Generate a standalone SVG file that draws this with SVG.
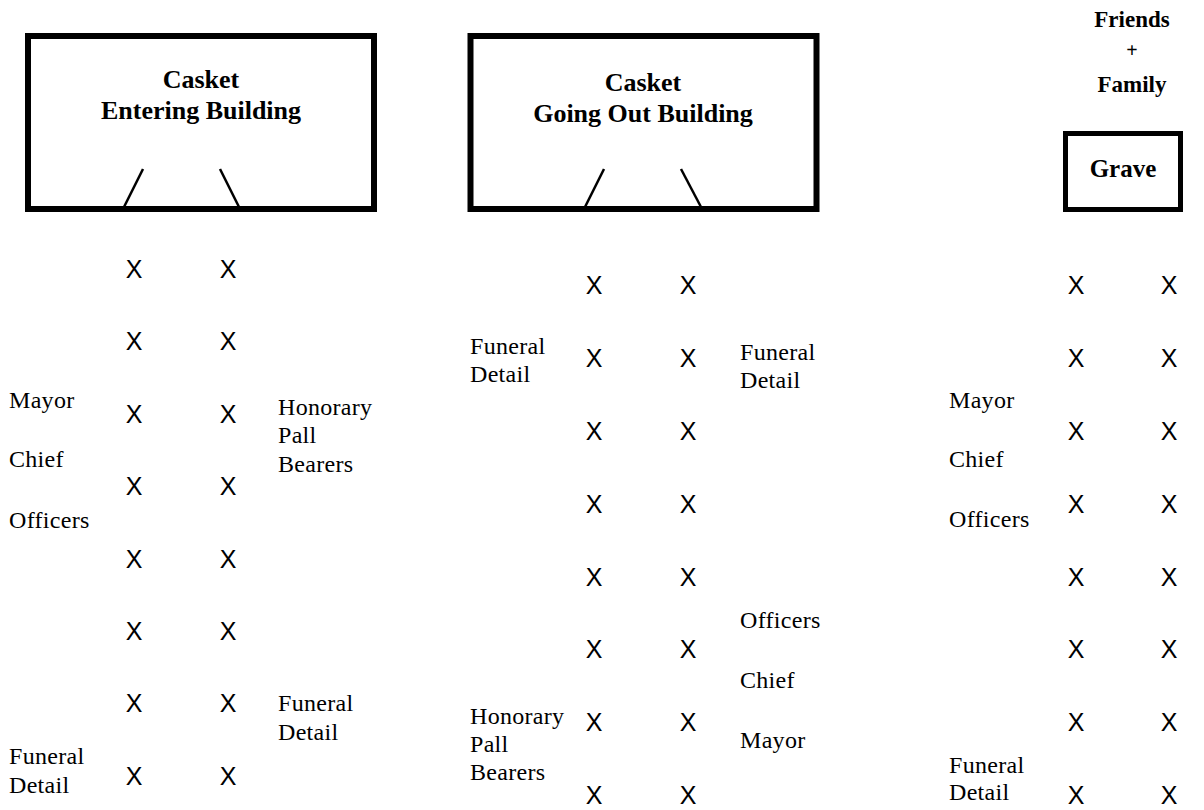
<svg xmlns="http://www.w3.org/2000/svg" width="1204" height="810" viewBox="0 0 1204 810">
<style>
.box{fill:#fff;stroke:#000;stroke-width:6}
.gbox{fill:#fff;stroke:#000;stroke-width:5}
.door{stroke:#000;stroke-width:2.5;fill:none}
.head{font-family:"Liberation Serif",serif;font-weight:bold;font-size:26px;text-anchor:middle;fill:#000}
.head2{font-family:"Liberation Serif",serif;font-weight:bold;font-size:23px;text-anchor:middle;fill:#000}
.lbl{font-family:"Liberation Serif",serif;font-size:24px;letter-spacing:0.3px;fill:#000}
.x{font-family:"Liberation Sans",sans-serif;font-size:25px;text-anchor:middle;fill:#000}
</style>
<rect width="1204" height="810" fill="#fff"/>

<g id="box-entering">
  <rect class="box" x="28" y="36" width="346" height="173"/>
  <line class="door" x1="143" y1="169" x2="124" y2="207"/>
  <line class="door" x1="220" y1="169" x2="239" y2="207"/>
  <text class="head" x="201" y="88">Casket</text>
  <text class="head" x="201" y="119">Entering Building</text>
</g>

<g id="box-going-out">
  <rect class="box" x="470.5" y="36" width="346" height="173"/>
  <line class="door" x1="604" y1="169" x2="585" y2="207"/>
  <line class="door" x1="681" y1="169" x2="701" y2="207"/>
  <text class="head" x="643" y="91">Casket</text>
  <text class="head" x="643" y="122">Going Out Building</text>
</g>

<g id="friends-family">
  <text class="head2" x="1132" y="27">Friends</text>
  <text class="head2" x="1132" y="57" style="font-size:20px">+</text>
  <text class="head2" x="1132" y="92">Family</text>
</g>

<g id="box-grave">
  <rect class="gbox" x="1065.5" y="133.5" width="115" height="76"/>
  <text class="head2" x="1123" y="177" style="font-size:25px">Grave</text>
</g>

<g id="col1-x">
  <text class="x" x="134" y="278">X</text><text class="x" x="228" y="278">X</text>
  <text class="x" x="134" y="350">X</text><text class="x" x="228" y="350">X</text>
  <text class="x" x="134" y="423">X</text><text class="x" x="228" y="423">X</text>
  <text class="x" x="134" y="495">X</text><text class="x" x="228" y="495">X</text>
  <text class="x" x="134" y="568">X</text><text class="x" x="228" y="568">X</text>
  <text class="x" x="134" y="640">X</text><text class="x" x="228" y="640">X</text>
  <text class="x" x="134" y="712">X</text><text class="x" x="228" y="712">X</text>
  <text class="x" x="134" y="785">X</text><text class="x" x="228" y="785">X</text>
</g>

<g id="col1-labels">
  <text class="lbl" x="9" y="408">Mayor</text>
  <text class="lbl" x="9" y="467">Chief</text>
  <text class="lbl" x="9" y="528">Officers</text>
  <text class="lbl" x="278" y="415">Honorary</text>
  <text class="lbl" x="278" y="443">Pall</text>
  <text class="lbl" x="278" y="472">Bearers</text>
  <text class="lbl" x="278" y="711">Funeral</text>
  <text class="lbl" x="278" y="740">Detail</text>
  <text class="lbl" x="9" y="764">Funeral</text>
  <text class="lbl" x="9" y="793">Detail</text>
</g>

<g id="col2-x">
  <text class="x" x="594" y="294">X</text><text class="x" x="688" y="294">X</text>
  <text class="x" x="594" y="367">X</text><text class="x" x="688" y="367">X</text>
  <text class="x" x="594" y="440">X</text><text class="x" x="688" y="440">X</text>
  <text class="x" x="594" y="513">X</text><text class="x" x="688" y="513">X</text>
  <text class="x" x="594" y="586">X</text><text class="x" x="688" y="586">X</text>
  <text class="x" x="594" y="658">X</text><text class="x" x="688" y="658">X</text>
  <text class="x" x="594" y="731">X</text><text class="x" x="688" y="731">X</text>
  <text class="x" x="594" y="804">X</text><text class="x" x="688" y="804">X</text>
</g>

<g id="col2-labels">
  <text class="lbl" x="470" y="354">Funeral</text>
  <text class="lbl" x="470" y="382">Detail</text>
  <text class="lbl" x="740" y="360">Funeral</text>
  <text class="lbl" x="740" y="388">Detail</text>
  <text class="lbl" x="740" y="628">Officers</text>
  <text class="lbl" x="740" y="688">Chief</text>
  <text class="lbl" x="740" y="748">Mayor</text>
  <text class="lbl" x="470" y="724">Honorary</text>
  <text class="lbl" x="470" y="752">Pall</text>
  <text class="lbl" x="470" y="780">Bearers</text>
</g>

<g id="col3-x">
  <text class="x" x="1076" y="294">X</text><text class="x" x="1169" y="294">X</text>
  <text class="x" x="1076" y="367">X</text><text class="x" x="1169" y="367">X</text>
  <text class="x" x="1076" y="440">X</text><text class="x" x="1169" y="440">X</text>
  <text class="x" x="1076" y="513">X</text><text class="x" x="1169" y="513">X</text>
  <text class="x" x="1076" y="586">X</text><text class="x" x="1169" y="586">X</text>
  <text class="x" x="1076" y="658">X</text><text class="x" x="1169" y="658">X</text>
  <text class="x" x="1076" y="731">X</text><text class="x" x="1169" y="731">X</text>
  <text class="x" x="1076" y="804">X</text><text class="x" x="1169" y="804">X</text>
</g>

<g id="col3-labels">
  <text class="lbl" x="949" y="408">Mayor</text>
  <text class="lbl" x="949" y="467">Chief</text>
  <text class="lbl" x="949" y="527">Officers</text>
  <text class="lbl" x="949" y="773">Funeral</text>
  <text class="lbl" x="949" y="800">Detail</text>
</g>
</svg>
